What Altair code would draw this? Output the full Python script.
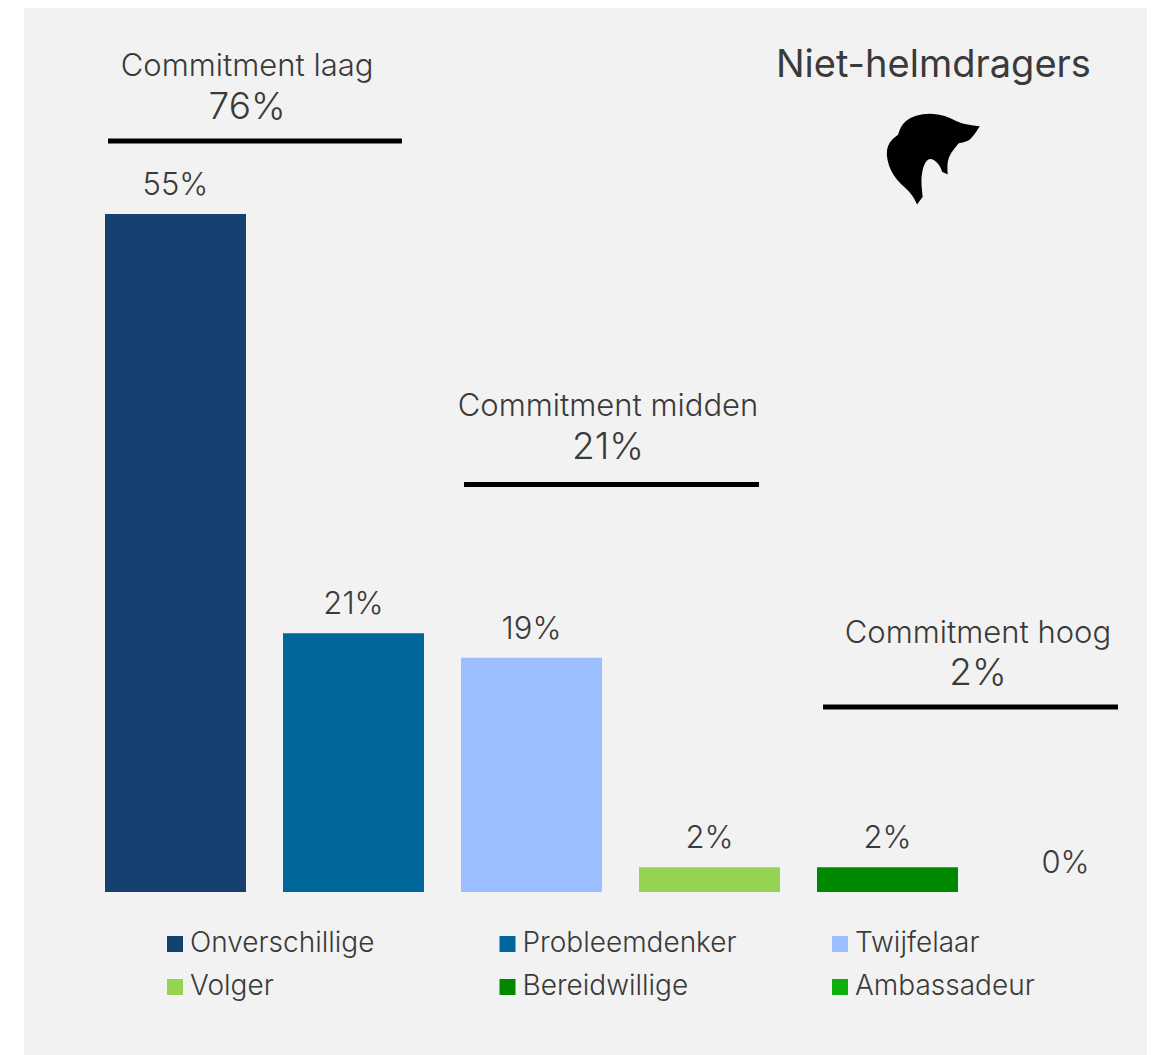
import altair as alt
import pandas as pd

categories = ["Onverschillige", "Probleemdenker", "Twijfelaar", "Volger", "Bereidwillige", "Ambassadeur"]
values = [55, 21, 19, 2, 2, 0]
colors = ["#15406f", "#00679b", "#9abeff", "#95d352", "#008800", "#0bb00b"]

group_names = ["Commitment laag", "Commitment midden", "Commitment hoog"]
group_totals = ["76%", "21%", "2%"]
group_start = [-0.379, 1.621, 3.638]
group_end = [1.272, 3.278, 5.295]
group_center = [0.402, 2.430, 4.508]
group_rule_y = [60.92, 33.05, 15.0]
group_name_y = [66.95, 39.35, 20.95]
group_total_y = [63.6, 36.05, 17.65]

title_text = "Niet-helmdragers"
title_pos = (4.258, 67.03)
icon_pos = (4.256, 59.5)

# Silhouette outline, (x, y, sharp corner)
icon_outline = [(388,106,1),(345,102,0),(315,90,0),(285,75,0),(240,67,0),(195,73,0),(165,90,0),(150,110,0),
                (143,132,1),(125,145,0),(112,165,0),(108,190,0),(115,225,0),(130,255,0),(150,278,0),(175,300,0),
                (190,320,0),(200,341,1),(217,318,1),(212,280,0),(215,240,0),(225,212,0),(240,202,0),(258,212,0),
                (270,228,0),(275,243,1),(292,251,1),(290,225,0),(295,198,0),(310,175,0),(325,157,1),(350,153,0),(370,135,0)]

def icon_path(pts, cx=248, cy=203, r=141):
    n = [((x - cx) / r, (y - cy) / r, s) for x, y, s in pts]
    d = f"M{n[0][0]:.3f},{n[0][1]:.3f}"
    for i in range(1, len(n)):
        x, y, s = n[i]
        nx, ny, _ = n[(i + 1) % len(n)]
        if s:
            d += f"L{x:.3f},{y:.3f}"
        else:
            d += f"Q{x:.3f},{y:.3f} {(x + nx) / 2:.3f},{(y + ny) / 2:.3f}"
    return d + "Z"

FONT = "Inter"
INK = "#3a3a3a"
PANEL = "#f2f2f2"

bars_df = pd.DataFrame({"cat": categories, "val": values, "label": [f"{v}%" for v in values]})
groups_df = pd.DataFrame({"name": group_names, "total": group_totals, "start": group_start, "end": group_end,
                          "center": group_center, "rule_y": group_rule_y, "name_y": group_name_y, "total_y": group_total_y})
title_df = pd.DataFrame({"text": [title_text], "x": [title_pos[0]], "y": [title_pos[1]]})
icon_df = pd.DataFrame({"x": [icon_pos[0]], "y": [icon_pos[1]]})

W, H = 1123, 1047
yscale = alt.Scale(domain=[-13.22, 71.71], range=[H, 0], nice=False, zero=False)
xband = alt.X("cat:N", sort=categories, axis=None,
              scale=alt.Scale(type="band", domain=categories, range=[81, 1112], paddingInner=0.2079, paddingOuter=0))
xq = alt.Scale(domain=[-0.8511, 5.458], range=[0, W], nice=False, zero=False)

bars = alt.Chart(bars_df).mark_bar(cornerRadius=0).encode(
    x=xband,
    y=alt.Y("val:Q", scale=yscale, axis=None),
    y2=alt.Y2(datum=0),
    color=alt.Color("cat:N", sort=categories,
                    scale=alt.Scale(domain=categories, range=colors),
                    legend=alt.Legend(title=None, orient="none", direction="horizontal", columns=3,
                                      legendX=137, legendY=922, symbolType="square", symbolSize=256,
                                      symbolStrokeWidth=0, symbolOpacity=1, gridAlign="all",
                                      columnPadding=88.5, rowPadding=15, labelFont=FONT, labelFontWeight=300,
                                      labelFontSize=28, labelColor=INK, labelOffset=1, labelLimit=400)),
)
bar_labels = alt.Chart(bars_df).mark_text(font=FONT, fontWeight=300, fontSize=31, color=INK, baseline="middle", dy=-28).encode(
    x=xband, y=alt.Y("val:Q", scale=yscale, axis=None), text="label:N")

rules = alt.Chart(groups_df).mark_rule(color="#000000", strokeWidth=5).encode(
    x=alt.X("start:Q", scale=xq, axis=None), x2="end:Q", y=alt.Y("rule_y:Q", scale=yscale, axis=None))
names = alt.Chart(groups_df).mark_text(font=FONT, fontWeight=300, fontSize=31, color=INK, baseline="middle").encode(
    x=alt.X("center:Q", scale=xq, axis=None), y=alt.Y("name_y:Q", scale=yscale, axis=None), text="name:N")
totals = alt.Chart(groups_df).mark_text(font=FONT, fontWeight=300, fontSize=37, color=INK, baseline="middle").encode(
    x=alt.X("center:Q", scale=xq, axis=None), y=alt.Y("total_y:Q", scale=yscale, axis=None), text="total:N")
title = alt.Chart(title_df).mark_text(font=FONT, fontWeight=400, fontSize=38, color=INK, baseline="middle").encode(
    x=alt.X("x:Q", scale=xq, axis=None), y=alt.Y("y:Q", scale=yscale, axis=None), text="text:N")
icon = alt.Chart(icon_df).mark_point(shape=icon_path(icon_outline), filled=True, color="#000000", opacity=1, size=8836).encode(
    x=alt.X("x:Q", scale=xq, axis=None), y=alt.Y("y:Q", scale=yscale, axis=None))

chart = alt.layer(bars, bar_labels, rules, names, totals, title, icon).resolve_scale(x="independent").properties(
    width=W, height=H, padding={"left": 16, "top": 0, "right": 0, "bottom": 0},
    autosize=alt.AutoSizeParams(type="none"), background="#ffffff",
).configure_view(fill=PANEL, stroke=None)

chart.save("out.html", embed_options={"renderer": "svg", "actions": False})
